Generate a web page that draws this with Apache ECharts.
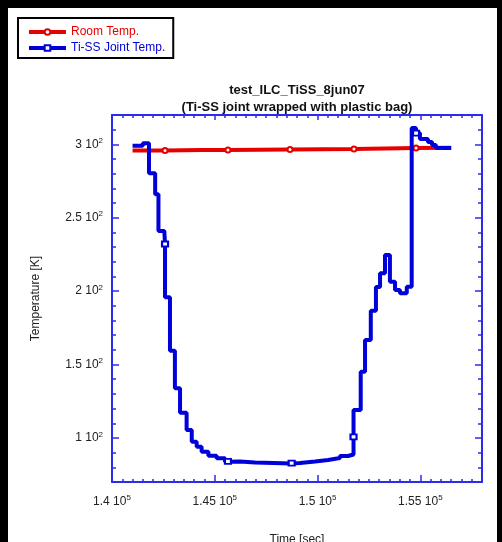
<!DOCTYPE html>
<html>
<head>
<meta charset="utf-8">
<script src="https://cdn.jsdelivr.net/npm/echarts@6/dist/echarts.min.js"></script>
<style>
  html, body { margin: 0; padding: 0; background: #000; width: 502px; height: 542px; overflow: hidden; }
  #chart { position: absolute; left: 8px; top: 8px; width: 489px; height: 534px; background: #fff; }
</style>
</head>
<body>
<div id="chart"></div>
<script>
// room temperature (red)
var roomTime = [141000, 142580, 144380, 145640, 148660, 151770, 154790, 156500];
var roomTemp = [295.8, 295.9, 296.2, 296.2, 296.5, 296.8, 297.5, 297.7];
var roomMarks = [1, 3, 4, 5, 6];

// Ti-SS joint temperature (blue), step data
var jointTime = [141000, 141500, 141800, 142100, 142260, 142550, 142580, 142580, 142820, 143060,
  143310, 143630, 143880, 144120, 144360, 144690, 145090, 145500, 145640, 146230,
  146960, 148740, 149150, 149880, 150510, 151090, 151480, 151750, 151750, 152100,
  152310, 152590, 152840, 153040, 153280, 153520, 153770, 154010, 154340, 154580,
  154790, 154980, 155370, 155570, 155760, 156500];
var jointTemp = [299.1, 300.7, 280.3, 266.0, 241.0, 239.6, 232.1, 195.8, 159.4, 133.8,
  117.2, 105.4, 97.5, 94.0, 90.6, 87.9, 86.1, 83.8, 84.0, 83.3,
  82.6, 82.9, 84.0, 85.0, 86.3, 87.7, 88.7, 100.7, 119.0, 145.1,
  166.7, 186.7, 202.8, 212.2, 224.6, 206.4, 200.8, 198.5, 203.0, 311.1,
  307.7, 303.7, 301.6, 299.6, 297.5, 297.5];
var jointMarks = [6, 18, 21, 27, 40];

// axis ticks
var xTicks = [140000, 145000, 150000, 155000];
var yTicks = [100, 150, 200, 250, 300];

(function() {
  var myChart = echarts.init(document.getElementById("chart"));
  var frame = "#2b2bf0";
  var font = "Liberation Sans";
  var labelRich = {
    b: { fontFamily: font, fontSize: 12, color: "#222" },
    sup: { fontFamily: font, fontSize: 8, color: "#222", padding: [0, 0, 7, 0] }
  };

  function minorX(pos, extra) {
    return Object.assign({
      type: "value", position: pos, min: 140000, max: 158000, interval: 500,
      axisLine: { lineStyle: { color: frame, width: 2 } },
      axisTick: { inside: true, length: 3, lineStyle: { color: frame, width: 1.5 } },
      axisLabel: { show: false },
      splitLine: { show: false }
    }, extra || {});
  }
  function majorX(pos, extra) {
    return Object.assign({
      type: "value", position: pos, min: 140000, max: 158000,
      axisLine: { show: false },
      axisTick: { inside: true, length: 7, customValues: xTicks, lineStyle: { color: frame, width: 1.5 } },
      axisLabel: { show: false },
      splitLine: { show: false }
    }, extra || {});
  }
  function minorY(pos, extra) {
    return Object.assign({
      type: "value", position: pos, min: 70, max: 320, interval: 10,
      axisLine: { lineStyle: { color: frame, width: 2 } },
      axisTick: { inside: true, length: 4, lineStyle: { color: frame, width: 1.5 } },
      axisLabel: { show: false },
      splitLine: { show: false }
    }, extra || {});
  }
  function majorY(pos, extra) {
    return Object.assign({
      type: "value", position: pos, min: 70, max: 320,
      axisLine: { show: false },
      axisTick: { inside: true, length: 7, customValues: yTicks, lineStyle: { color: frame, width: 1.5 } },
      axisLabel: { show: false },
      splitLine: { show: false }
    }, extra || {});
  }

  var option = {
    animation: false,
    title: {
      text: "test_ILC_TiSS_8jun07\n(Ti-SS joint wrapped with plastic bag)",
      left: 284,
      top: 69,
      textAlign: "center",
      textStyle: { fontFamily: font, fontSize: 13, fontWeight: "bold", color: "#111", lineHeight: 17 }
    },
    legend: {
      left: 10,
      top: 10,
      orient: "vertical",
      itemWidth: 37,
      itemHeight: 7,
      itemGap: 2,
      padding: [7, 8, 3, 9],
      borderColor: "#000",
      borderWidth: 2,
      lineStyle: { width: 4 },
      data: [
        { name: "Room Temp.", textStyle: { color: "#e60000" } },
        { name: "Ti-SS Joint Temp.", textStyle: { color: "#0000d8" } }
      ],
      textStyle: { fontFamily: font, fontSize: 12, lineHeight: 14 }
    },
    grid: { left: 104, top: 107, width: 370, height: 367, containLabel: false, outerBoundsMode: "none" },
    xAxis: [
      minorX("bottom", {
        name: "Time [sec]", nameLocation: "middle", nameGap: 52,
        nameTextStyle: { fontFamily: font, fontSize: 12, color: "#222" }
      }),
      majorX("bottom", {
        axisLabel: {
          show: true, margin: 12, customValues: xTicks, rich: labelRich,
          formatter: function(v) { return "{b|" + parseFloat((v / 1e5).toFixed(2)) + " 10}{sup|5}"; }
        }
      }),
      minorX("top"),
      majorX("top", { axisTick: { inside: true, length: 5, customValues: xTicks, lineStyle: { color: frame, width: 1.5 } } })
    ],
    yAxis: [
      minorY("left", {
        name: "Temperature [K]", nameLocation: "middle", nameGap: 70,
        nameTextStyle: { fontFamily: font, fontSize: 12, color: "#222" }
      }),
      majorY("left", {
        axisLabel: {
          show: true, margin: 9, customValues: yTicks, rich: labelRich,
          formatter: function(v) { return "{b|" + parseFloat((v / 100).toFixed(2)) + " 10}{sup|2}"; }
        }
      }),
      minorY("right"),
      majorY("right")
    ],
    series: [
      {
        name: "Room Temp.",
        type: "line",
        xAxisIndex: 0,
        yAxisIndex: 0,
        data: roomTime.map(function(t, i) { return [t, roomTemp[i]]; }),
        color: "#e60000",
        lineStyle: { width: 4, color: "#e60000" },
        symbol: "emptyCircle",
        showSymbol: true,
        showAllSymbol: true,
        symbolSize: function(v, p) { return roomMarks.indexOf(p.dataIndex) >= 0 ? 5 : 0; },
        itemStyle: { color: "#e60000", borderWidth: 1.5 },
        z: 2
      },
      {
        name: "Ti-SS Joint Temp.",
        type: "line",
        step: "end",
        xAxisIndex: 0,
        yAxisIndex: 0,
        data: jointTime.map(function(t, i) { return [t, jointTemp[i]]; }),
        color: "#0000d8",
        lineStyle: { width: 4, color: "#0000d8" },
        symbol: "emptyRect",
        showSymbol: true,
        showAllSymbol: true,
        symbolSize: function(v, p) { return jointMarks.indexOf(p.dataIndex) >= 0 ? [6, 5] : 0; },
        itemStyle: { color: "#0000d8", borderWidth: 1 },
        z: 3
      }
    ]
  };
  myChart.setOption(option);
  window.addEventListener("resize", function() {
    myChart.resize();
  });
})();
</script>
</body>
</html>
